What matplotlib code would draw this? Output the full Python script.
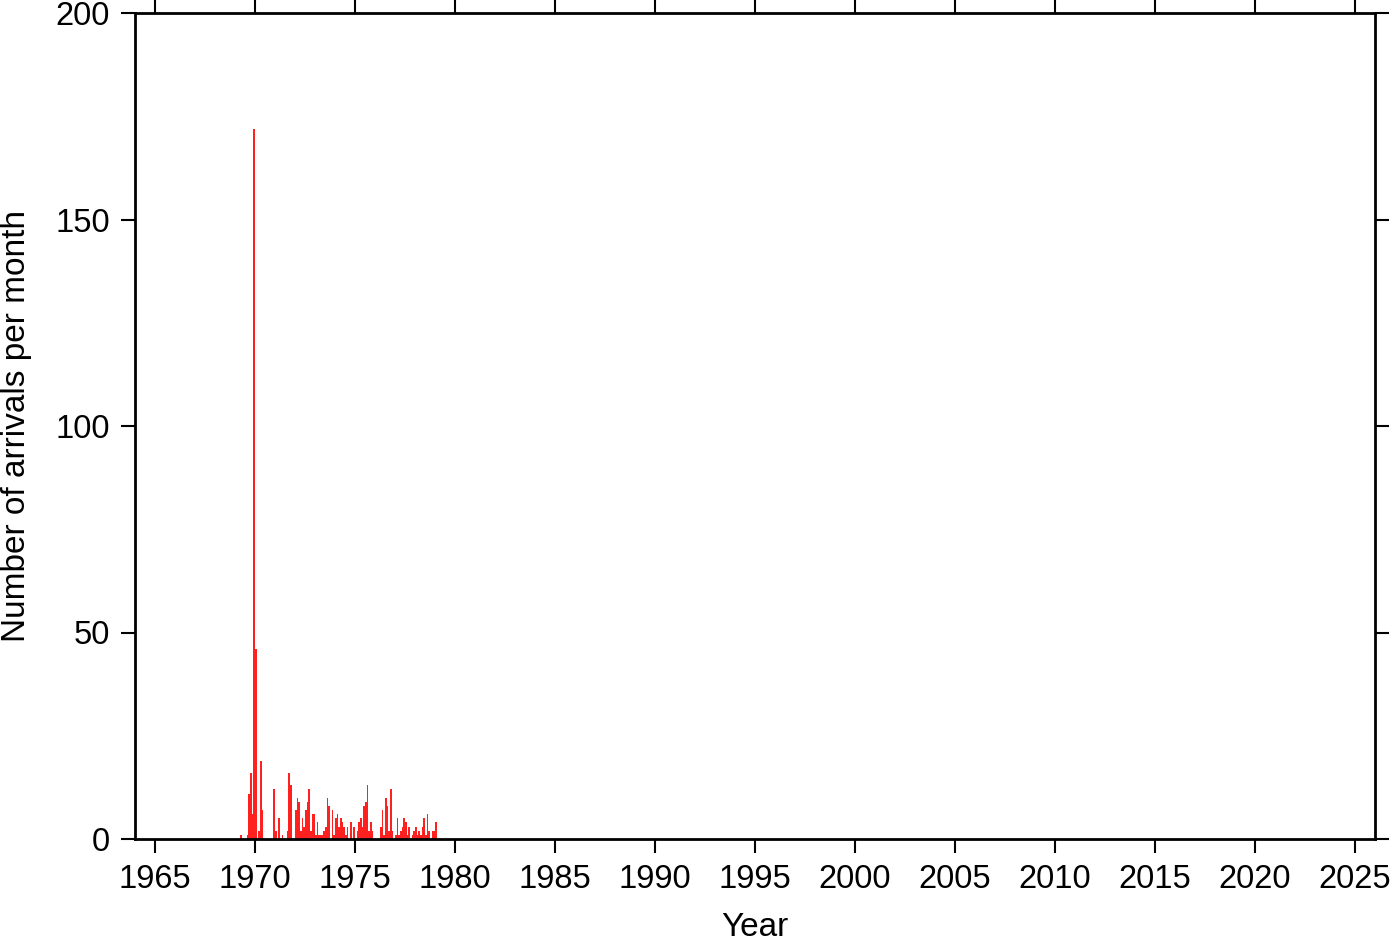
import numpy as np
import matplotlib
matplotlib.use("Agg")
import matplotlib.pyplot as plt

# monthly arrival counts, one row per year, starting January 1969
start_year = 1969
counts_1969 = [0, 0, 0, 1, 0, 0, 0, 1, 11, 16, 6, 172]
counts_1970 = [46, 0, 2, 19, 7, 0, 0, 0, 0, 0, 0, 12]
counts_1971 = [2, 0, 5, 0, 1, 0, 0, 2, 16, 13, 0, 0]
counts_1972 = [7, 10, 9, 2, 5, 3, 7, 9, 12, 2, 6, 6]
counts_1973 = [1, 4, 1, 1, 1, 2, 3, 10, 8, 0, 7, 1]
counts_1974 = [5, 6, 3, 5, 4, 3, 1, 3, 0, 4, 0, 3]
counts_1975 = [0, 2, 4, 5, 3, 8, 9, 13, 2, 4, 2, 0]
counts_1976 = [0, 0, 0, 3, 7, 1, 10, 8, 2, 12, 2, 0]
counts_1977 = [1, 5, 1, 2, 3, 5, 4, 1, 3, 0, 1, 2]
counts_1978 = [3, 1, 2, 1, 3, 5, 1, 6, 2, 0, 2, 2]
counts_1979 = [4]

counts = (counts_1969 + counts_1970 + counts_1971 + counts_1972 + counts_1973 +
          counts_1974 + counts_1975 + counts_1976 + counts_1977 + counts_1978 +
          counts_1979)
months = start_year + np.arange(len(counts)) / 12.0

x_ticks = list(range(1965, 2030, 5))
y_ticks = [0, 50, 100, 150, 200]

plt.rcParams['font.family'] = ['Liberation Sans', 'DejaVu Sans']

fig = plt.figure(figsize=(14, 9.42), dpi=100)
ax = fig.add_axes([135 / 1400, 1 - 839 / 942, 1240 / 1400, 826 / 942])

ax.bar(months, counts, width=1 / 12, align='edge', color='#ff2020', linewidth=0)

ax.set_xlim(1964, 2026)
ax.set_ylim(0, 200)
ax.set_xticks(x_ticks)
ax.set_yticks(y_ticks)
ax.tick_params(direction='out', length=10, width=1.5, labelsize=23.5,
               top=True, right=True, pad=8)
for s in ax.spines.values():
    s.set_linewidth(2)

ax.set_xlabel("Year", fontsize=24, labelpad=12)
ax.set_ylabel("Number of arrivals per month", fontsize=24)
ax.yaxis.set_label_coords(-0.083, 0.5)

fig.savefig("out.png", dpi=100)
